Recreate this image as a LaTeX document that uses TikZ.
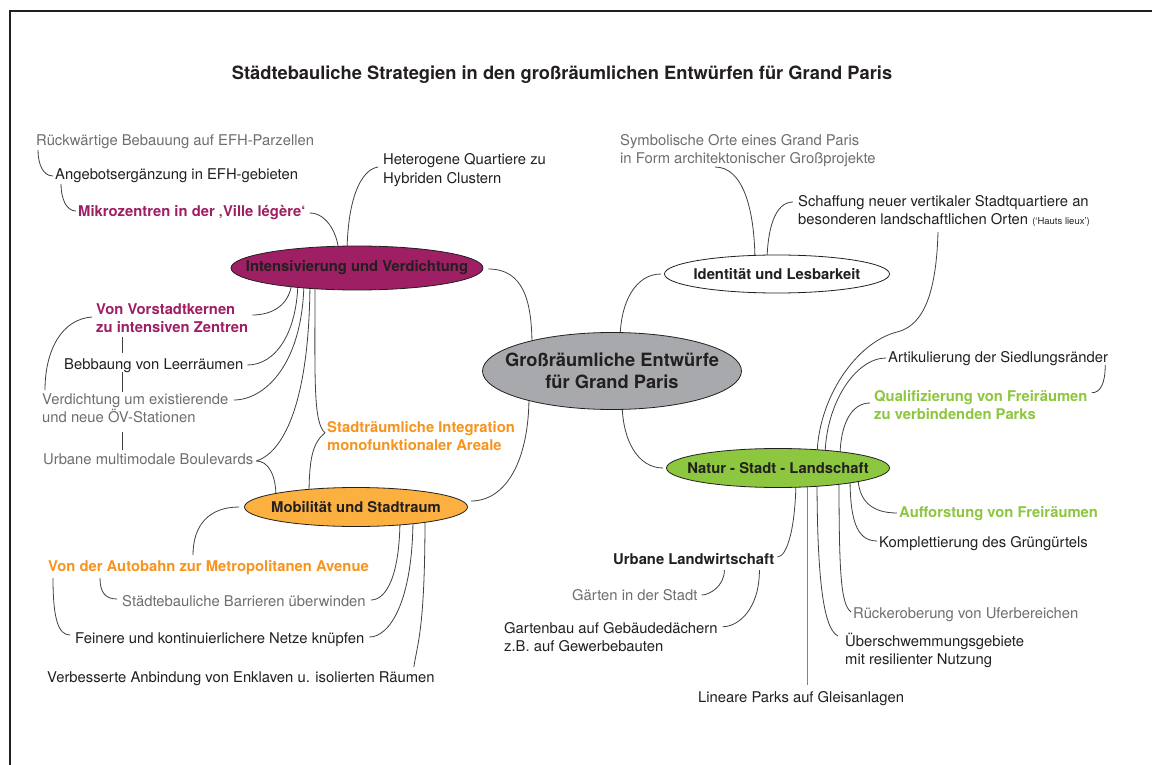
\documentclass[tikz,border=0pt]{standalone}
\usepackage{fontspec}
\setmainfont{TeX Gyre Heros}
\usetikzlibrary{shapes.geometric,calc}
\pgfdeclarelayer{bg}
\pgfdeclarelayer{paper}
\pgfsetlayers{paper,bg,main}
\definecolor{purp}{HTML}{9E1F63}
\definecolor{orng}{HTML}{F7941D}
\definecolor{orfill}{HTML}{FBB040}
\definecolor{grn}{HTML}{8DC63F}
\definecolor{cgray}{HTML}{A7A9AC}
\definecolor{tgray}{HTML}{6D6E71}
\definecolor{tblack}{HTML}{231F20}
\definecolor{lcol}{HTML}{414042}
\definecolor{lgray}{HTML}{808285}
\tikzset{
 txt/.style={anchor=base west, inner sep=0pt, align=left, font=\fontsize{14.8}{18}\selectfont, text=tblack},
 gtxt/.style={txt, text=tgray},
 btxt/.style={txt, font=\fontsize{14.8}{18}\selectfont\bfseries},
 ptxt/.style={btxt, text=purp},
 otxt/.style={btxt, text=orng},
 grtxt/.style={btxt, text=grn},
 topic/.style={ellipse, draw=tblack, line width=0.8pt, inner sep=0pt, font=\fontsize{14.8}{18}\selectfont\bfseries, text=tblack},
 conn/.style={draw=lcol, line width=0.8pt},
}
\begin{document}
\begin{tikzpicture}[x=1pt,y=-1pt]
\useasboundingbox (0,0) rectangle (1152,765);
\begin{pgfonlayer}{paper}
\fill[white] (0,0) rectangle (1152,765);
\end{pgfonlayer}
\draw[line width=2pt, tblack] (10,765) -- (10,11) -- (1152,11);

\node[font=\fontsize{18.3}{21}\selectfont\bfseries, text=tblack, anchor=base, inner sep=0pt] (title) at (562,80) {Städtebauliche Strategien in den großräumlichen Entwürfen für Grand Paris};

% topic ellipses
\node[topic, fill=cgray, minimum width=259pt, minimum height=77pt, font=\fontsize{18.3}{22}\selectfont\bfseries, align=center] (C) at (612,371) {\makebox[0pt]{Großräumliche Entwürfe}\\\makebox[0pt]{für Grand Paris}};
\node[topic, fill=purp, minimum width=252pt, minimum height=44pt] (I) at (357,268) {\makebox[0pt]{Intensivierung und Verdichtung}};
\node[topic, fill=white, minimum width=225pt, minimum height=38pt] (Id) at (777,274) {\makebox[0pt]{Identität und Lesbarkeit}};
\node[topic, fill=grn, minimum width=223pt, minimum height=39pt] (N) at (778,468) {\makebox[0pt]{Natur - Stadt - Landschaft}};
\node[topic, fill=orfill, minimum width=223pt, minimum height=39pt] (M) at (356,507) {\makebox[0pt]{Mobilität und Stadtraum}};

% texts (multi-line nodes: base = last line)
\node[gtxt] (r1) at (36,146) {Rückwärtige Bebauung auf EFH-Parzellen};
\node[txt] (r2) at (55,180) {Angebotsergänzung in EFH-gebieten};
\node[ptxt] (r3) at (78,216) {Mikrozentren in der ‚Ville légère‘};
\node[txt] (r4) at (383,183) {Heterogene Quartiere zu\\Hybriden Clustern};
\node[ptxt] (l1) at (96,332) {Von Vorstadtkernen\\zu intensiven Zentren};
\node[txt] (l2) at (64,369) {Bebbaung von Leerräumen};
\node[gtxt] (l3) at (42,422) {Verdichtung um existierende\\und neue ÖV-Stationen};
\node[gtxt] (l4) at (43,464) {Urbane multimodale Boulevards};
\node[otxt] (l5) at (327,450) {Stadträumliche Integration\\monofunktionaler Areale};
\node[otxt] (m1) at (48,571) {Von der Autobahn zur Metropolitanen Avenue};
\node[gtxt] (m2) at (122,606) {Städtebauliche Barrieren überwinden};
\node[txt] (m3) at (75,643) {Feinere und kontinuierlichere Netze knüpfen};
\node[txt] (m4) at (47,682) {Verbesserte Anbindung von Enklaven u. isolierten Räumen};
\node[gtxt] (i1) at (620,164) {Symbolische Orte eines Grand Paris\\in Form architektonischer Großprojekte};
\node[txt] (i2) at (798,225) {Schaffung neuer vertikaler Stadtquartiere an\\besonderen landschaftlichen Orten {\fontsize{9.5}{10}\selectfont(‘Hauts lieux’)}};
\node[txt] (n1) at (888,362) {Artikulierung der Siedlungsränder};
\node[grtxt] (n2) at (874,419) {Qualifizierung von Freiräumen\\zu verbindenden Parks};
\node[grtxt] (n3) at (899,517) {Aufforstung von Freiräumen};
\node[txt] (n4) at (879,547) {Komplettierung des Grüngürtels};
\node[gtxt] (n5) at (853,618) {Rückeroberung von Uferbereichen};
\node[txt] (n6) at (845,664) {Überschwemmungsgebiete\\mit resilienter Nutzung};
\node[txt] (n7) at (698,702) {Lineare Parks auf Gleisanlagen};
\node[btxt] (n8) at (613,564) {Urbane Landwirtschaft};
\node[gtxt] (n9) at (572,600) {Gärten in der Stadt};
\node[txt] (n10) at (504,651) {Gartenbau auf Gebäudedächern\\z.B. auf Gewerbebauten};

\begin{pgfonlayer}{bg}
% Intensivierung cluster
\draw[conn] ($(r1.base west)+(2,4)$) .. controls +(0,14) and +(-10,0) .. ($(r2.base west)+(-2,-4)$);
\draw[conn] ($(r2.base west)+(6,4)$) .. controls +(0,14) and +(-10,0) .. ($(r3.base west)+(-2,-5)$);
\draw[conn] ($(r3.base east)+(4,-3)$) .. controls +(18,0) and +(0,-20) .. ($(I)+(-18,-12)$);
\draw[conn] ($(I)+(-10,-12)$) .. controls +(0,-55) and +(-18,3) .. ($(r4.base west)+(-5,-16)$);
\draw[conn] ($(I)+(-65,10)$) .. controls +(0,25) and +(22,0) .. ($(l1.north east)+(4,12)$);
\draw[conn] ($(I)+(-59,10)$) .. controls +(0,55) and +(28,0) .. ($(l2.base east)+(4,-4)$);
\draw[conn] ($(I)+(-53,10)$) .. controls +(0,85) and +(32,0) .. ($(l3.north east)+(5,7)$);
\draw[conn] ($(I)+(-47,10)$) .. controls +(0,130) and +(25,-8) .. ($(l4.base east)+(3,-3)$);
\draw[conn] ($(I)+(-42,10)$) .. controls +(0,100) and +(-12,-10) .. ($(l5.north west)+(-2,12)$);
\draw[conn] ($(M)+(-47,-10)$) .. controls +(0,-40) and +(-12,10) .. ($(l5.north west)+(-2,12)$);
\draw[conn] ($(M)+(-80,-10)$) .. controls +(0,-22) and +(12,0) .. ($(l4.base east)+(3,-3)$);
\draw[conn] ($(l1.base west)+(-4,-15)$) .. controls +(-30,2) and +(0,-40) .. ($(l3.base west)+(3,-32)$);
\draw[conn] ($(l1.base west)+(26,5)$) -- ($(l2.base west)+(58,-16)$);
\draw[conn] ($(l2.base west)+(58,3)$) -- ($(l3.base west)+(80,-30)$);
\draw[conn] ($(l3.base west)+(80,10)$) -- ($(l4.base west)+(79,-14)$);
% central
\draw[conn] ($(I.east)+(5,1)$) .. controls +(35,0) and +(0,-45) .. ($(C)+(-80,-25)$);
\draw[conn] ($(C)+(-83,25)$) .. controls +(0,65) and +(35,0) .. ($(M.east)+(3,-6)$);
\draw[conn] ($(C)+(8,-30)$) .. controls +(0,-40) and +(-25,0) .. ($(Id.west)+(-3,0)$);
\draw[conn] ($(C)+(10,30)$) .. controls +(0,40) and +(-25,0) .. ($(N.west)+(-3,0)$);
% Identitaet
\draw[conn] ($(Id)+(-22,-10)$) .. controls +(0,-55) and +(28,0) .. ($(i1.base west)+(95,3)$);
\draw[conn] ($(Id)+(-10,-10)$) .. controls +(0,-35) and +(-18,0) .. ($(i2.base west)+(-5,-23)$);
\draw[conn] ($(i2.base west)+(140,7)$) .. controls +(-2,75) and +(20,-5) .. ($(i2.base west)+(99,107)$) .. controls +(-40,10) and +(0,-60) .. ($(N)+(39,-10)$);
% Natur
\draw[conn] ($(N)+(47,-10)$) .. controls +(0,-55) and +(-30,0) .. ($(n1.base west)+(-2,-4)$);
\draw[conn] ($(n1.base east)+(-3,3)$) .. controls +(0,20) and +(8,0) .. ($(n2.north east)+(4,3)$);
\draw[conn] ($(N)+(62,-10)$) .. controls +(0,-35) and +(-18,0) .. ($(n2.base west)+(-4,-16)$);
\draw[conn] ($(N)+(80,8)$) .. controls +(0,25) and +(-25,0) .. ($(n3.base west)+(-2,-4)$);
\draw[conn] ($(N)+(72,8)$) .. controls +(0,40) and +(-22,0) .. ($(n4.base west)+(-2,-6)$);
\draw[conn] ($(N)+(61,8)$) .. controls +(0,100) and +(-10,-8) .. ($(n5.base west)+(-2,-6)$);
\draw[conn] ($(N)+(39,8)$) .. controls +(0,120) and +(-12,-6) .. ($(n6.base west)+(-7,-28)$);
\draw[conn, draw=lgray] ($(N)+(29,8)$) -- ($(n7.base west)+(109,-17)$);
\draw[conn] ($(N)+(18,8)$) .. controls +(0,50) and +(10,0) .. ($(n8.base east)+(3,-7)$);
\draw[conn] ($(n8.base east)+(-50,6)$) .. controls +(0,16) and +(8,0) .. ($(n9.base east)+(4,-5)$);
\draw[conn] ($(n8.base east)+(-15,6)$) .. controls +(0,40) and +(15,0) .. ($(n10.north east)+(5,5)$);
% Mobilitaet
\draw[conn] ($(M.west)+(-5,0)$) .. controls +(-30,0) and +(0,-30) .. ($(m1.base west)+(145,-16)$);
\draw[conn] ($(m1.base west)+(52,7)$) .. controls +(0,14) and +(-12,0) .. ($(m2.base west)+(-5,-7)$);
\draw[conn] ($(m1.base west)+(5,7)$) .. controls +(0,40) and +(-12,0) .. ($(m3.base west)+(-5,-8)$);
\draw[conn] ($(M)+(44,10)$) .. controls +(0,60) and +(15,0) .. ($(m2.base east)+(5,-6)$);
\draw[conn] ($(M)+(57,10)$) .. controls +(0,85) and +(20,0) .. ($(m3.base east)+(5,-6)$);
\draw[conn] ($(M)+(69,10)$) .. controls +(0,110) and +(4,-25) .. ($(m4.north east)+(-21,-4)$);
\end{pgfonlayer}
\end{tikzpicture}
\end{document}
